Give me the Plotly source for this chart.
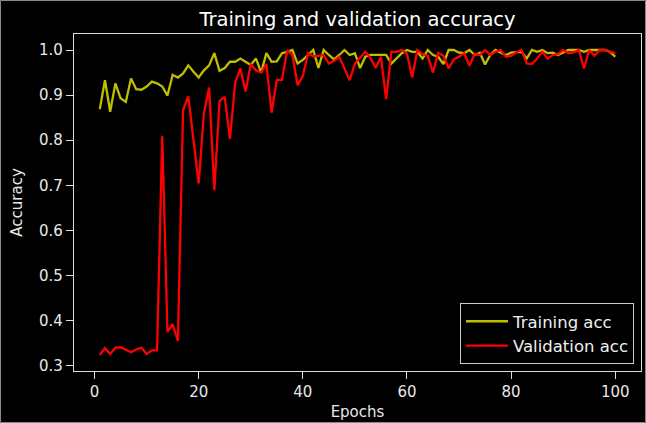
import plotly.graph_objects as go

epochs = list(range(1, 101))

training_acc = [
    0.869, 0.933, 0.863, 0.926, 0.893, 0.885, 0.937, 0.913, 0.912, 0.919,
    0.930, 0.926, 0.919, 0.899, 0.945, 0.939, 0.948, 0.966, 0.952, 0.939,
    0.955, 0.966, 0.993, 0.954, 0.960, 0.974, 0.974, 0.981, 0.974, 0.967,
    0.981, 0.950, 0.993, 0.974, 0.975, 0.993, 0.996, 1.000, 0.970, 0.978,
    0.989, 1.000, 0.960, 1.000, 0.989, 0.979, 0.989, 1.000, 0.989, 0.993,
    0.960, 0.985, 0.989, 0.989, 0.989, 0.989, 0.970, 0.982, 0.993, 1.000,
    0.996, 0.996, 0.981, 1.000, 0.989, 0.985, 0.969, 1.000, 1.000, 0.994,
    0.993, 1.000, 0.989, 0.994, 0.968, 0.989, 1.000, 0.994, 0.989, 0.994,
    0.995, 0.996, 0.981, 1.000, 0.996, 1.000, 0.993, 0.994, 0.989, 0.994,
    1.000, 1.000, 1.000, 0.996, 1.000, 1.000, 1.000, 1.000, 0.996, 0.985,
]

validation_acc = [
    0.324, 0.339, 0.326, 0.340, 0.341, 0.336, 0.330, 0.336, 0.340, 0.326,
    0.334, 0.334, 0.809, 0.375, 0.392, 0.355, 0.867, 0.897, 0.800, 0.704,
    0.860, 0.917, 0.689, 0.887, 0.896, 0.803, 0.927, 0.959, 0.908, 0.969,
    0.955, 0.950, 0.969, 0.861, 0.934, 0.934, 0.999, 0.989, 0.922, 0.942,
    0.993, 0.986, 0.987, 0.989, 0.970, 0.976, 0.985, 0.960, 0.933, 0.970,
    0.982, 0.996, 0.982, 0.960, 0.985, 0.891, 0.996, 0.996, 1.000, 0.992,
    0.939, 1.000, 0.991, 0.987, 0.950, 0.994, 0.987, 0.959, 0.979, 0.985,
    0.993, 0.965, 0.991, 0.989, 1.000, 0.989, 0.996, 1.000, 0.985, 0.987,
    0.995, 1.000, 0.970, 0.969, 0.981, 0.996, 0.981, 0.989, 0.991, 1.000,
    0.993, 0.995, 1.000, 0.959, 1.000, 0.987, 1.000, 1.000, 0.996, 0.993,
]

x_ticks = [0, 20, 40, 60, 80, 100]
y_ticks = [0.3, 0.4, 0.5, 0.6, 0.7, 0.8, 0.9, 1.0]

W, H = 646, 423
ML, MR, MT, MB = 74, 5, 34, 52
PW, PH = W - ML - MR, H - MT - MB

FONT = "DejaVu Sans"
AX = "#dddddd"

fig = go.Figure()
fig.add_trace(go.Scatter(x=epochs, y=training_acc, mode="lines",
                         name="Training acc",
                         line=dict(color="#bfbf00", width=2.3)))
fig.add_trace(go.Scatter(x=epochs, y=validation_acc, mode="lines",
                         name="Validation acc",
                         line=dict(color="#ff0000", width=2.3)))

def px_x(p):
    return (p - ML) / PW

def px_y(p):
    return (H - MB - p) / PH

fig.update_layout(
    width=W, height=H,
    margin=dict(l=ML, r=MR, t=MT, b=MB, pad=0),
    paper_bgcolor="black", plot_bgcolor="black",
    font=dict(family=FONT, color="white", size=15),
    title=dict(text="Training and validation accuracy",
               x=px_x(357.5), xanchor="center", xref="paper",
               y=1 - 19 / H, yanchor="middle",
               font=dict(size=19.5, color="white", family=FONT)),
    showlegend=True,
    legend=dict(x=px_x(634), xanchor="right", y=px_y(364), yanchor="bottom",
                bgcolor="black", bordercolor="#cccccc", borderwidth=1,
                font=dict(size=16.5, color="#f0f0f0", family=FONT),
                itemwidth=42, tracegroupgap=0),
    xaxis=dict(range=[-3.95, 104.95], tickvals=x_ticks,
               ticktext=[str(v) for v in x_ticks],
               showgrid=False, zeroline=False,
               showline=True, linecolor=AX, linewidth=1.2, mirror=True,
               ticks="outside", ticklen=7, tickwidth=1.2, tickcolor=AX,
               tickfont=dict(size=15, color="#e8e8e8", family=FONT),
               title=dict(text="Epochs", standoff=6,
                          font=dict(size=15, color="#e8e8e8", family=FONT))),
    yaxis=dict(range=[0.2883, 1.0355], tickvals=y_ticks,
               ticktext=[f"{v:.1f}" for v in y_ticks],
               showgrid=False, zeroline=False,
               showline=True, linecolor=AX, linewidth=1.2, mirror=True,
               ticks="outside", ticklen=7, tickwidth=1.2, tickcolor=AX,
               tickfont=dict(size=15, color="#e8e8e8", family=FONT),
               title=dict(text="Accuracy", standoff=12,
                          font=dict(size=15, color="#e8e8e8", family=FONT))),
    shapes=[dict(type="rect", xref="paper", yref="paper",
                 x0=px_x(0.5), x1=px_x(645.5), y0=px_y(422.5), y1=px_y(0.5),
                 line=dict(color="#8a8a8a", width=1), layer="above")],
)

fig.write_html(
    "out.html",
    config={"displayModeBar": False},
    post_script="document.body.style.margin='0';document.body.style.overflow='hidden';",
)
